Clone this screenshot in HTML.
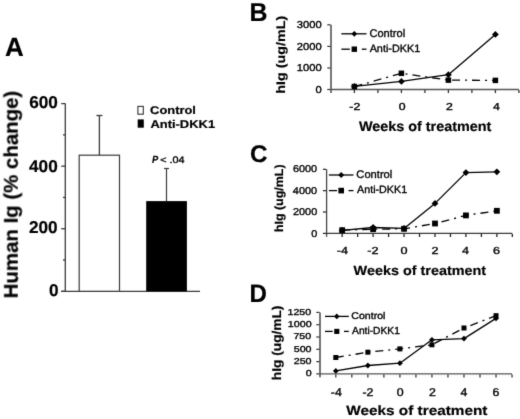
<!DOCTYPE html>
<html><head><meta charset="utf-8"><style>
html,body{margin:0;padding:0;background:#fff;}
body{width:520px;height:419px;overflow:hidden;}
svg{display:block;filter:grayscale(1);}
text{font-family:"Liberation Sans",sans-serif;text-rendering:geometricPrecision;}
</style></head><body>
<svg width="520" height="419" viewBox="0 0 520 419"><defs><filter id="bl" x="0" y="0" width="520" height="419" filterUnits="userSpaceOnUse" color-interpolation-filters="sRGB"><feConvolveMatrix order="3" kernelMatrix="0.01134 0.08382 0.01134 0.08382 0.61935 0.08382 0.01134 0.08382 0.01134" divisor="1" edgeMode="duplicate" preserveAlpha="true"/></filter></defs>
<g filter="url(#bl)">
<rect width="520" height="419" fill="#fff"/>
<line x1="65.30" y1="103.60" x2="65.30" y2="291.30" stroke="#3a3a3a" stroke-width="1.3"/>
<line x1="61.20" y1="291.30" x2="65.30" y2="291.30" stroke="#3a3a3a" stroke-width="1.3"/>
<line x1="61.20" y1="228.73" x2="65.30" y2="228.73" stroke="#3a3a3a" stroke-width="1.3"/>
<line x1="61.20" y1="166.17" x2="65.30" y2="166.17" stroke="#3a3a3a" stroke-width="1.3"/>
<line x1="61.20" y1="103.60" x2="65.30" y2="103.60" stroke="#3a3a3a" stroke-width="1.3"/>
<line x1="63.00" y1="260.02" x2="65.30" y2="260.02" stroke="#3a3a3a" stroke-width="1.3"/>
<line x1="63.00" y1="197.45" x2="65.30" y2="197.45" stroke="#3a3a3a" stroke-width="1.3"/>
<line x1="63.00" y1="134.88" x2="65.30" y2="134.88" stroke="#3a3a3a" stroke-width="1.3"/>
<line x1="61.20" y1="291.30" x2="200.00" y2="291.30" stroke="#3a3a3a" stroke-width="1.3"/>
<rect x="79.2" y="155.2" width="40.3" height="136.10" fill="#fff" stroke="#3a3a3a" stroke-width="1.2"/>
<line x1="99.40" y1="155.20" x2="99.40" y2="115.50" stroke="#3a3a3a" stroke-width="1.3"/>
<line x1="96.40" y1="115.50" x2="102.40" y2="115.50" stroke="#3a3a3a" stroke-width="1.3"/>
<rect x="146.2" y="201.1" width="40.7" height="90.20" fill="#000"/>
<line x1="166.50" y1="201.10" x2="166.50" y2="168.50" stroke="#3a3a3a" stroke-width="1.2"/>
<line x1="164.00" y1="168.50" x2="169.00" y2="168.50" stroke="#3a3a3a" stroke-width="1.2"/>
<rect x="137.9" y="106.4" width="5.4" height="7.8" fill="#fff" stroke="#333" stroke-width="1.1"/>
<rect x="137.7" y="119.4" width="6.1" height="8.3" fill="#000"/>
<line x1="331.00" y1="24.80" x2="331.00" y2="92.90" stroke="#777" stroke-width="2.0"/>
<line x1="327.30" y1="24.80" x2="330.50" y2="24.80" stroke="#333" stroke-width="1.2"/>
<line x1="327.30" y1="46.40" x2="330.50" y2="46.40" stroke="#333" stroke-width="1.2"/>
<line x1="327.30" y1="68.00" x2="330.50" y2="68.00" stroke="#333" stroke-width="1.2"/>
<line x1="327.30" y1="89.50" x2="330.50" y2="89.50" stroke="#333" stroke-width="1.2"/>
<line x1="331.00" y1="89.50" x2="518.90" y2="89.50" stroke="#555" stroke-width="1.3"/>
<line x1="354.40" y1="90.00" x2="354.40" y2="93.10" stroke="#333" stroke-width="1.3"/>
<line x1="377.90" y1="90.00" x2="377.90" y2="93.10" stroke="#333" stroke-width="1.3"/>
<line x1="401.40" y1="90.00" x2="401.40" y2="93.10" stroke="#333" stroke-width="1.3"/>
<line x1="424.90" y1="90.00" x2="424.90" y2="93.10" stroke="#333" stroke-width="1.3"/>
<line x1="448.40" y1="90.00" x2="448.40" y2="93.10" stroke="#333" stroke-width="1.3"/>
<line x1="471.90" y1="90.00" x2="471.90" y2="93.10" stroke="#333" stroke-width="1.3"/>
<line x1="495.40" y1="90.00" x2="495.40" y2="93.10" stroke="#333" stroke-width="1.3"/>
<line x1="518.90" y1="90.00" x2="518.90" y2="93.10" stroke="#333" stroke-width="1.3"/>
<line x1="341.40" y1="33.80" x2="366.50" y2="33.80" stroke="#000" stroke-width="1.3"/>
<path d="M354.30,30.90L357.20,33.80L354.30,36.70L351.40,33.80Z" fill="#000"/>
<line x1="341.40" y1="49.20" x2="349.80" y2="49.20" stroke="#000" stroke-width="1.3"/>
<rect x="351.60" y="46.50" width="5.40" height="5.40" fill="#000"/>
<line x1="361.80" y1="49.20" x2="366.50" y2="49.20" stroke="#000" stroke-width="1.3"/>
<polyline points="354.40,86.40 401.40,81.40 448.40,74.70 495.40,34.40" fill="none" stroke="#000" stroke-width="1.3" stroke-linejoin="round"/>
<path d="M354.40,83.00L357.80,86.40L354.40,89.80L351.00,86.40Z" fill="#000"/>
<path d="M401.40,78.00L404.80,81.40L401.40,84.80L398.00,81.40Z" fill="#000"/>
<path d="M448.40,71.30L451.80,74.70L448.40,78.10L445.00,74.70Z" fill="#000"/>
<path d="M495.40,31.00L498.80,34.40L495.40,37.80L492.00,34.40Z" fill="#000"/>
<polyline points="354.40,86.60 401.40,73.30 448.40,80.10 495.40,80.40" fill="none" stroke="#000" stroke-width="1.3" stroke-dasharray="8,5,2,5" stroke-linejoin="round"/>
<rect x="351.65" y="83.85" width="5.50" height="5.50" fill="#000"/>
<rect x="398.65" y="70.55" width="5.50" height="5.50" fill="#000"/>
<rect x="445.65" y="77.35" width="5.50" height="5.50" fill="#000"/>
<rect x="492.65" y="77.65" width="5.50" height="5.50" fill="#000"/>
<line x1="326.60" y1="169.30" x2="326.60" y2="236.80" stroke="#444" stroke-width="1.3"/>
<line x1="322.90" y1="169.30" x2="326.10" y2="169.30" stroke="#222" stroke-width="1.2"/>
<line x1="322.90" y1="190.70" x2="326.10" y2="190.70" stroke="#222" stroke-width="1.2"/>
<line x1="322.90" y1="212.00" x2="326.10" y2="212.00" stroke="#222" stroke-width="1.2"/>
<line x1="322.90" y1="233.40" x2="326.10" y2="233.40" stroke="#222" stroke-width="1.2"/>
<line x1="326.60" y1="233.40" x2="512.34" y2="233.40" stroke="#3a3a3a" stroke-width="1.2"/>
<line x1="342.17" y1="233.90" x2="342.17" y2="237.00" stroke="#222" stroke-width="1.3"/>
<line x1="357.64" y1="233.90" x2="357.64" y2="237.00" stroke="#222" stroke-width="1.3"/>
<line x1="373.11" y1="233.90" x2="373.11" y2="237.00" stroke="#222" stroke-width="1.3"/>
<line x1="388.58" y1="233.90" x2="388.58" y2="237.00" stroke="#222" stroke-width="1.3"/>
<line x1="404.05" y1="233.90" x2="404.05" y2="237.00" stroke="#222" stroke-width="1.3"/>
<line x1="419.52" y1="233.90" x2="419.52" y2="237.00" stroke="#222" stroke-width="1.3"/>
<line x1="434.99" y1="233.90" x2="434.99" y2="237.00" stroke="#222" stroke-width="1.3"/>
<line x1="450.46" y1="233.90" x2="450.46" y2="237.00" stroke="#222" stroke-width="1.3"/>
<line x1="465.93" y1="233.90" x2="465.93" y2="237.00" stroke="#222" stroke-width="1.3"/>
<line x1="481.40" y1="233.90" x2="481.40" y2="237.00" stroke="#222" stroke-width="1.3"/>
<line x1="496.87" y1="233.90" x2="496.87" y2="237.00" stroke="#222" stroke-width="1.3"/>
<line x1="512.34" y1="233.90" x2="512.34" y2="237.00" stroke="#222" stroke-width="1.3"/>
<line x1="328.90" y1="175.00" x2="353.50" y2="175.00" stroke="#000" stroke-width="1.3"/>
<path d="M341.20,172.00L344.20,175.00L341.20,178.00L338.20,175.00Z" fill="#000"/>
<line x1="328.90" y1="190.60" x2="337.00" y2="190.60" stroke="#000" stroke-width="1.3"/>
<rect x="338.40" y="187.80" width="5.60" height="5.60" fill="#000"/>
<line x1="348.50" y1="190.60" x2="353.50" y2="190.60" stroke="#000" stroke-width="1.3"/>
<polyline points="342.17,230.40 373.11,227.50 404.05,228.40 434.99,203.40 465.93,172.60 496.87,171.80" fill="none" stroke="#000" stroke-width="1.3" stroke-linejoin="round"/>
<path d="M342.17,227.00L345.57,230.40L342.17,233.80L338.77,230.40Z" fill="#000"/>
<path d="M373.11,224.10L376.51,227.50L373.11,230.90L369.71,227.50Z" fill="#000"/>
<path d="M404.05,225.00L407.45,228.40L404.05,231.80L400.65,228.40Z" fill="#000"/>
<path d="M434.99,200.00L438.39,203.40L434.99,206.80L431.59,203.40Z" fill="#000"/>
<path d="M465.93,169.20L469.33,172.60L465.93,176.00L462.53,172.60Z" fill="#000"/>
<path d="M496.87,168.40L500.27,171.80L496.87,175.20L493.47,171.80Z" fill="#000"/>
<polyline points="342.17,230.20 373.11,229.20 404.05,228.80 434.99,223.50 465.93,215.40 496.87,210.80" fill="none" stroke="#000" stroke-width="1.3" stroke-dasharray="8,5,2,5" stroke-linejoin="round"/>
<rect x="339.27" y="227.30" width="5.80" height="5.80" fill="#000"/>
<rect x="370.21" y="226.30" width="5.80" height="5.80" fill="#000"/>
<rect x="401.15" y="225.90" width="5.80" height="5.80" fill="#000"/>
<rect x="432.09" y="220.60" width="5.80" height="5.80" fill="#000"/>
<rect x="463.03" y="212.50" width="5.80" height="5.80" fill="#000"/>
<rect x="493.97" y="207.90" width="5.80" height="5.80" fill="#000"/>
<line x1="320.00" y1="312.40" x2="320.00" y2="377.30" stroke="#3a3a3a" stroke-width="1.4"/>
<line x1="316.30" y1="312.40" x2="319.50" y2="312.40" stroke="#333" stroke-width="1.2"/>
<line x1="316.30" y1="324.70" x2="319.50" y2="324.70" stroke="#333" stroke-width="1.2"/>
<line x1="316.30" y1="337.00" x2="319.50" y2="337.00" stroke="#333" stroke-width="1.2"/>
<line x1="316.30" y1="349.30" x2="319.50" y2="349.30" stroke="#333" stroke-width="1.2"/>
<line x1="316.30" y1="361.60" x2="319.50" y2="361.60" stroke="#333" stroke-width="1.2"/>
<line x1="316.30" y1="373.90" x2="319.50" y2="373.90" stroke="#333" stroke-width="1.2"/>
<line x1="320.00" y1="373.90" x2="512.04" y2="373.90" stroke="#555" stroke-width="1.4"/>
<line x1="335.82" y1="374.40" x2="335.82" y2="377.50" stroke="#333" stroke-width="1.3"/>
<line x1="351.84" y1="374.40" x2="351.84" y2="377.50" stroke="#333" stroke-width="1.3"/>
<line x1="367.86" y1="374.40" x2="367.86" y2="377.50" stroke="#333" stroke-width="1.3"/>
<line x1="383.88" y1="374.40" x2="383.88" y2="377.50" stroke="#333" stroke-width="1.3"/>
<line x1="399.90" y1="374.40" x2="399.90" y2="377.50" stroke="#333" stroke-width="1.3"/>
<line x1="415.92" y1="374.40" x2="415.92" y2="377.50" stroke="#333" stroke-width="1.3"/>
<line x1="431.94" y1="374.40" x2="431.94" y2="377.50" stroke="#333" stroke-width="1.3"/>
<line x1="447.96" y1="374.40" x2="447.96" y2="377.50" stroke="#333" stroke-width="1.3"/>
<line x1="463.98" y1="374.40" x2="463.98" y2="377.50" stroke="#333" stroke-width="1.3"/>
<line x1="480.00" y1="374.40" x2="480.00" y2="377.50" stroke="#333" stroke-width="1.3"/>
<line x1="496.02" y1="374.40" x2="496.02" y2="377.50" stroke="#333" stroke-width="1.3"/>
<line x1="512.04" y1="374.40" x2="512.04" y2="377.50" stroke="#333" stroke-width="1.3"/>
<line x1="325.00" y1="316.40" x2="348.80" y2="316.40" stroke="#000" stroke-width="1.3"/>
<path d="M336.80,313.60L339.60,316.40L336.80,319.20L334.00,316.40Z" fill="#000"/>
<line x1="325.00" y1="331.40" x2="332.70" y2="331.40" stroke="#000" stroke-width="1.3"/>
<rect x="334.25" y="328.85" width="5.10" height="5.10" fill="#000"/>
<line x1="344.00" y1="331.40" x2="348.80" y2="331.40" stroke="#000" stroke-width="1.3"/>
<polyline points="335.82,370.90 367.86,365.50 399.90,363.20 431.94,339.80 463.98,338.60 496.02,318.40" fill="none" stroke="#000" stroke-width="1.3" stroke-linejoin="round"/>
<path d="M335.82,368.00L338.72,370.90L335.82,373.80L332.92,370.90Z" fill="#000"/>
<path d="M367.86,362.60L370.76,365.50L367.86,368.40L364.96,365.50Z" fill="#000"/>
<path d="M399.90,360.30L402.80,363.20L399.90,366.10L397.00,363.20Z" fill="#000"/>
<path d="M431.94,336.90L434.84,339.80L431.94,342.70L429.04,339.80Z" fill="#000"/>
<path d="M463.98,335.70L466.88,338.60L463.98,341.50L461.08,338.60Z" fill="#000"/>
<path d="M496.02,315.50L498.92,318.40L496.02,321.30L493.12,318.40Z" fill="#000"/>
<polyline points="335.82,357.50 367.86,352.20 399.90,348.90 431.94,344.80 463.98,328.00 496.02,315.70" fill="none" stroke="#000" stroke-width="1.3" stroke-dasharray="8,5,2,5" stroke-linejoin="round"/>
<rect x="333.32" y="355.00" width="5.00" height="5.00" fill="#000"/>
<rect x="365.36" y="349.70" width="5.00" height="5.00" fill="#000"/>
<rect x="397.40" y="346.40" width="5.00" height="5.00" fill="#000"/>
<rect x="429.44" y="342.30" width="5.00" height="5.00" fill="#000"/>
<rect x="461.48" y="325.50" width="5.00" height="5.00" fill="#000"/>
<rect x="493.52" y="313.20" width="5.00" height="5.00" fill="#000"/>
<text transform="translate(5.06,55.56) scale(0.9880,1)" font-size="26.27" font-weight="bold" font-style="normal" fill="#000" stroke="#000" stroke-width="0.2">A</text>
<text transform="translate(29.17,108.35) scale(1.0057,1)" font-size="17.08" font-weight="bold" font-style="normal" fill="#000" stroke="#000" stroke-width="0.2">600</text>
<text transform="translate(29.07,171.59) scale(1.0057,1)" font-size="17.08" font-weight="bold" font-style="normal" fill="#000" stroke="#000" stroke-width="0.2">400</text>
<text transform="translate(28.90,233.44) scale(1.0057,1)" font-size="17.08" font-weight="bold" font-style="normal" fill="#000" stroke="#000" stroke-width="0.2">200</text>
<text transform="translate(48.93,296.13) scale(1.0057,1)" font-size="17.08" font-weight="bold" font-style="normal" fill="#000" stroke="#000" stroke-width="0.2">0</text>
<text transform="translate(150.10,114.25) scale(1.1493,1)" font-size="11.22" font-weight="bold" font-style="normal" fill="#000" stroke="#000" stroke-width="0.2">Control</text>
<text transform="translate(150.44,127.95) scale(1.1380,1)" font-size="11.36" font-weight="bold" font-style="normal" fill="#000" stroke="#000" stroke-width="0.2">Anti-DKK1</text>
<text transform="translate(152.00,163.04) scale(0.8778,1)" font-size="10.54" font-weight="bold" font-style="italic" fill="#000" stroke="#000" stroke-width="0.2">P</text>
<text transform="translate(160.25,162.83) scale(1.1265,1)" font-size="9.55" font-weight="normal" font-style="normal" fill="#000" stroke="#000" stroke-width="0.35">&lt; .04</text>
<text transform="translate(249.54,21.45) scale(0.9636,1)" font-size="25.84" font-weight="bold" font-style="normal" fill="#000" stroke="#000" stroke-width="0.2">B</text>
<text transform="translate(296.84,28.13) scale(1.1161,1)" font-size="10.04" font-weight="normal" font-style="normal" fill="#000" stroke="#000" stroke-width="0.35">3000</text>
<text transform="translate(296.80,49.97) scale(1.1161,1)" font-size="10.04" font-weight="normal" font-style="normal" fill="#000" stroke="#000" stroke-width="0.35">2000</text>
<text transform="translate(296.84,71.19) scale(1.1161,1)" font-size="10.04" font-weight="normal" font-style="normal" fill="#000" stroke="#000" stroke-width="0.35">1000</text>
<text transform="translate(315.60,92.75) scale(1.1161,1)" font-size="10.04" font-weight="normal" font-style="normal" fill="#000" stroke="#000" stroke-width="0.35">0</text>
<text transform="translate(349.37,109.59) scale(1.2174,1)" font-size="10.11" font-weight="normal" font-style="normal" fill="#000" stroke="#000" stroke-width="0.35">-2</text>
<text transform="translate(398.75,109.59) scale(1.2174,1)" font-size="10.11" font-weight="normal" font-style="normal" fill="#000" stroke="#000" stroke-width="0.35">0</text>
<text transform="translate(445.97,109.59) scale(1.2174,1)" font-size="10.11" font-weight="normal" font-style="normal" fill="#000" stroke="#000" stroke-width="0.35">2</text>
<text transform="translate(492.98,109.59) scale(1.2174,1)" font-size="10.11" font-weight="normal" font-style="normal" fill="#000" stroke="#000" stroke-width="0.35">4</text>
<text transform="translate(358.89,131.05) scale(1.0451,1)" font-size="13.77" font-weight="bold" font-style="normal" fill="#000" stroke="#000" stroke-width="0.2">Weeks of treatment</text>
<text transform="translate(369.47,36.89) scale(0.9906,1)" font-size="11.16" font-weight="normal" font-style="normal" fill="#000" stroke="#000" stroke-width="0.35">Control</text>
<text transform="translate(369.64,52.10) scale(1.0299,1)" font-size="10.52" font-weight="normal" font-style="normal" fill="#000" stroke="#000" stroke-width="0.35">Anti-DKK1</text>
<text transform="translate(249.91,162.30) scale(1.0088,1)" font-size="24.05" font-weight="bold" font-style="normal" fill="#000" stroke="#000" stroke-width="0.2">C</text>
<text transform="translate(292.88,172.35) scale(1.0999,1)" font-size="9.94" font-weight="normal" font-style="normal" fill="#000" stroke="#000" stroke-width="0.35">6000</text>
<text transform="translate(292.84,194.04) scale(1.0999,1)" font-size="9.94" font-weight="normal" font-style="normal" fill="#000" stroke="#000" stroke-width="0.35">4000</text>
<text transform="translate(292.96,215.25) scale(1.0999,1)" font-size="9.94" font-weight="normal" font-style="normal" fill="#000" stroke="#000" stroke-width="0.35">2000</text>
<text transform="translate(311.22,237.18) scale(1.0999,1)" font-size="9.94" font-weight="normal" font-style="normal" fill="#000" stroke="#000" stroke-width="0.35">0</text>
<text transform="translate(336.69,253.55) scale(1.2391,1)" font-size="10.21" font-weight="normal" font-style="normal" fill="#000" stroke="#000" stroke-width="0.35">-4</text>
<text transform="translate(367.28,253.55) scale(1.2391,1)" font-size="10.21" font-weight="normal" font-style="normal" fill="#000" stroke="#000" stroke-width="0.35">-2</text>
<text transform="translate(400.50,253.55) scale(1.2391,1)" font-size="10.21" font-weight="normal" font-style="normal" fill="#000" stroke="#000" stroke-width="0.35">0</text>
<text transform="translate(431.50,253.55) scale(1.2391,1)" font-size="10.21" font-weight="normal" font-style="normal" fill="#000" stroke="#000" stroke-width="0.35">2</text>
<text transform="translate(462.10,253.55) scale(1.2391,1)" font-size="10.21" font-weight="normal" font-style="normal" fill="#000" stroke="#000" stroke-width="0.35">4</text>
<text transform="translate(493.11,253.55) scale(1.2391,1)" font-size="10.21" font-weight="normal" font-style="normal" fill="#000" stroke="#000" stroke-width="0.35">6</text>
<text transform="translate(353.62,274.58) scale(1.0863,1)" font-size="13.25" font-weight="bold" font-style="normal" fill="#000" stroke="#000" stroke-width="0.2">Weeks of treatment</text>
<text transform="translate(356.36,178.06) scale(1.0128,1)" font-size="11.01" font-weight="normal" font-style="normal" fill="#000" stroke="#000" stroke-width="0.35">Control</text>
<text transform="translate(357.06,193.36) scale(1.0198,1)" font-size="10.53" font-weight="normal" font-style="normal" fill="#000" stroke="#000" stroke-width="0.35">Anti-DKK1</text>
<text transform="translate(249.61,301.55) scale(0.9591,1)" font-size="25.12" font-weight="bold" font-style="normal" fill="#000" stroke="#000" stroke-width="0.2">D</text>
<text transform="translate(287.48,315.35) scale(1.2474,1)" font-size="8.55" font-weight="normal" font-style="normal" fill="#000" stroke="#000" stroke-width="0.35">1250</text>
<text transform="translate(287.84,327.44) scale(1.2474,1)" font-size="8.55" font-weight="normal" font-style="normal" fill="#000" stroke="#000" stroke-width="0.35">1000</text>
<text transform="translate(293.41,339.23) scale(1.2474,1)" font-size="8.55" font-weight="normal" font-style="normal" fill="#000" stroke="#000" stroke-width="0.35">750</text>
<text transform="translate(293.71,352.37) scale(1.2474,1)" font-size="8.55" font-weight="normal" font-style="normal" fill="#000" stroke="#000" stroke-width="0.35">500</text>
<text transform="translate(293.71,364.38) scale(1.2474,1)" font-size="8.55" font-weight="normal" font-style="normal" fill="#000" stroke="#000" stroke-width="0.35">250</text>
<text transform="translate(305.65,376.02) scale(1.2474,1)" font-size="8.55" font-weight="normal" font-style="normal" fill="#000" stroke="#000" stroke-width="0.35">0</text>
<text transform="translate(330.78,396.01) scale(1.0987,1)" font-size="11.27" font-weight="normal" font-style="normal" fill="#000" stroke="#000" stroke-width="0.35">-4</text>
<text transform="translate(362.45,396.01) scale(1.0987,1)" font-size="11.27" font-weight="normal" font-style="normal" fill="#000" stroke="#000" stroke-width="0.35">-2</text>
<text transform="translate(396.65,396.01) scale(1.0987,1)" font-size="11.27" font-weight="normal" font-style="normal" fill="#000" stroke="#000" stroke-width="0.35">0</text>
<text transform="translate(428.91,396.01) scale(1.0987,1)" font-size="11.27" font-weight="normal" font-style="normal" fill="#000" stroke="#000" stroke-width="0.35">2</text>
<text transform="translate(460.40,396.01) scale(1.0987,1)" font-size="11.27" font-weight="normal" font-style="normal" fill="#000" stroke="#000" stroke-width="0.35">4</text>
<text transform="translate(492.52,396.01) scale(1.0987,1)" font-size="11.27" font-weight="normal" font-style="normal" fill="#000" stroke="#000" stroke-width="0.35">6</text>
<text transform="translate(346.35,414.61) scale(1.1522,1)" font-size="13.31" font-weight="bold" font-style="normal" fill="#000" stroke="#000" stroke-width="0.2">Weeks of treatment</text>
<text transform="translate(351.33,318.64) scale(1.0807,1)" font-size="9.79" font-weight="normal" font-style="normal" fill="#000" stroke="#000" stroke-width="0.35">Control</text>
<text transform="translate(352.05,334.49) scale(0.9988,1)" font-size="10.25" font-weight="normal" font-style="normal" fill="#000" stroke="#000" stroke-width="0.35">Anti-DKK1</text>
<text transform="translate(17.74,298.35) rotate(-90) scale(1.0209,1)" font-size="20.01" font-weight="bold" fill="#000" stroke="#000" stroke-width="0.2">Human Ig (% change)</text>
<text transform="translate(285.45,93.72) rotate(-90) scale(1.1534,1)" font-size="12.42" font-weight="bold" fill="#000" stroke="#000" stroke-width="0.2">hIg (ug/mL)</text>
<text transform="translate(283.07,232.10) rotate(-90) scale(1.0478,1)" font-size="11.87" font-weight="bold" fill="#000" stroke="#000" stroke-width="0.2">hIg (ug/mL)</text>
<text transform="translate(281.05,380.17) rotate(-90) scale(1.0804,1)" font-size="12.70" font-weight="bold" fill="#000" stroke="#000" stroke-width="0.2">hIg (ug/mL)</text>
</g>
</svg>
</body></html>
